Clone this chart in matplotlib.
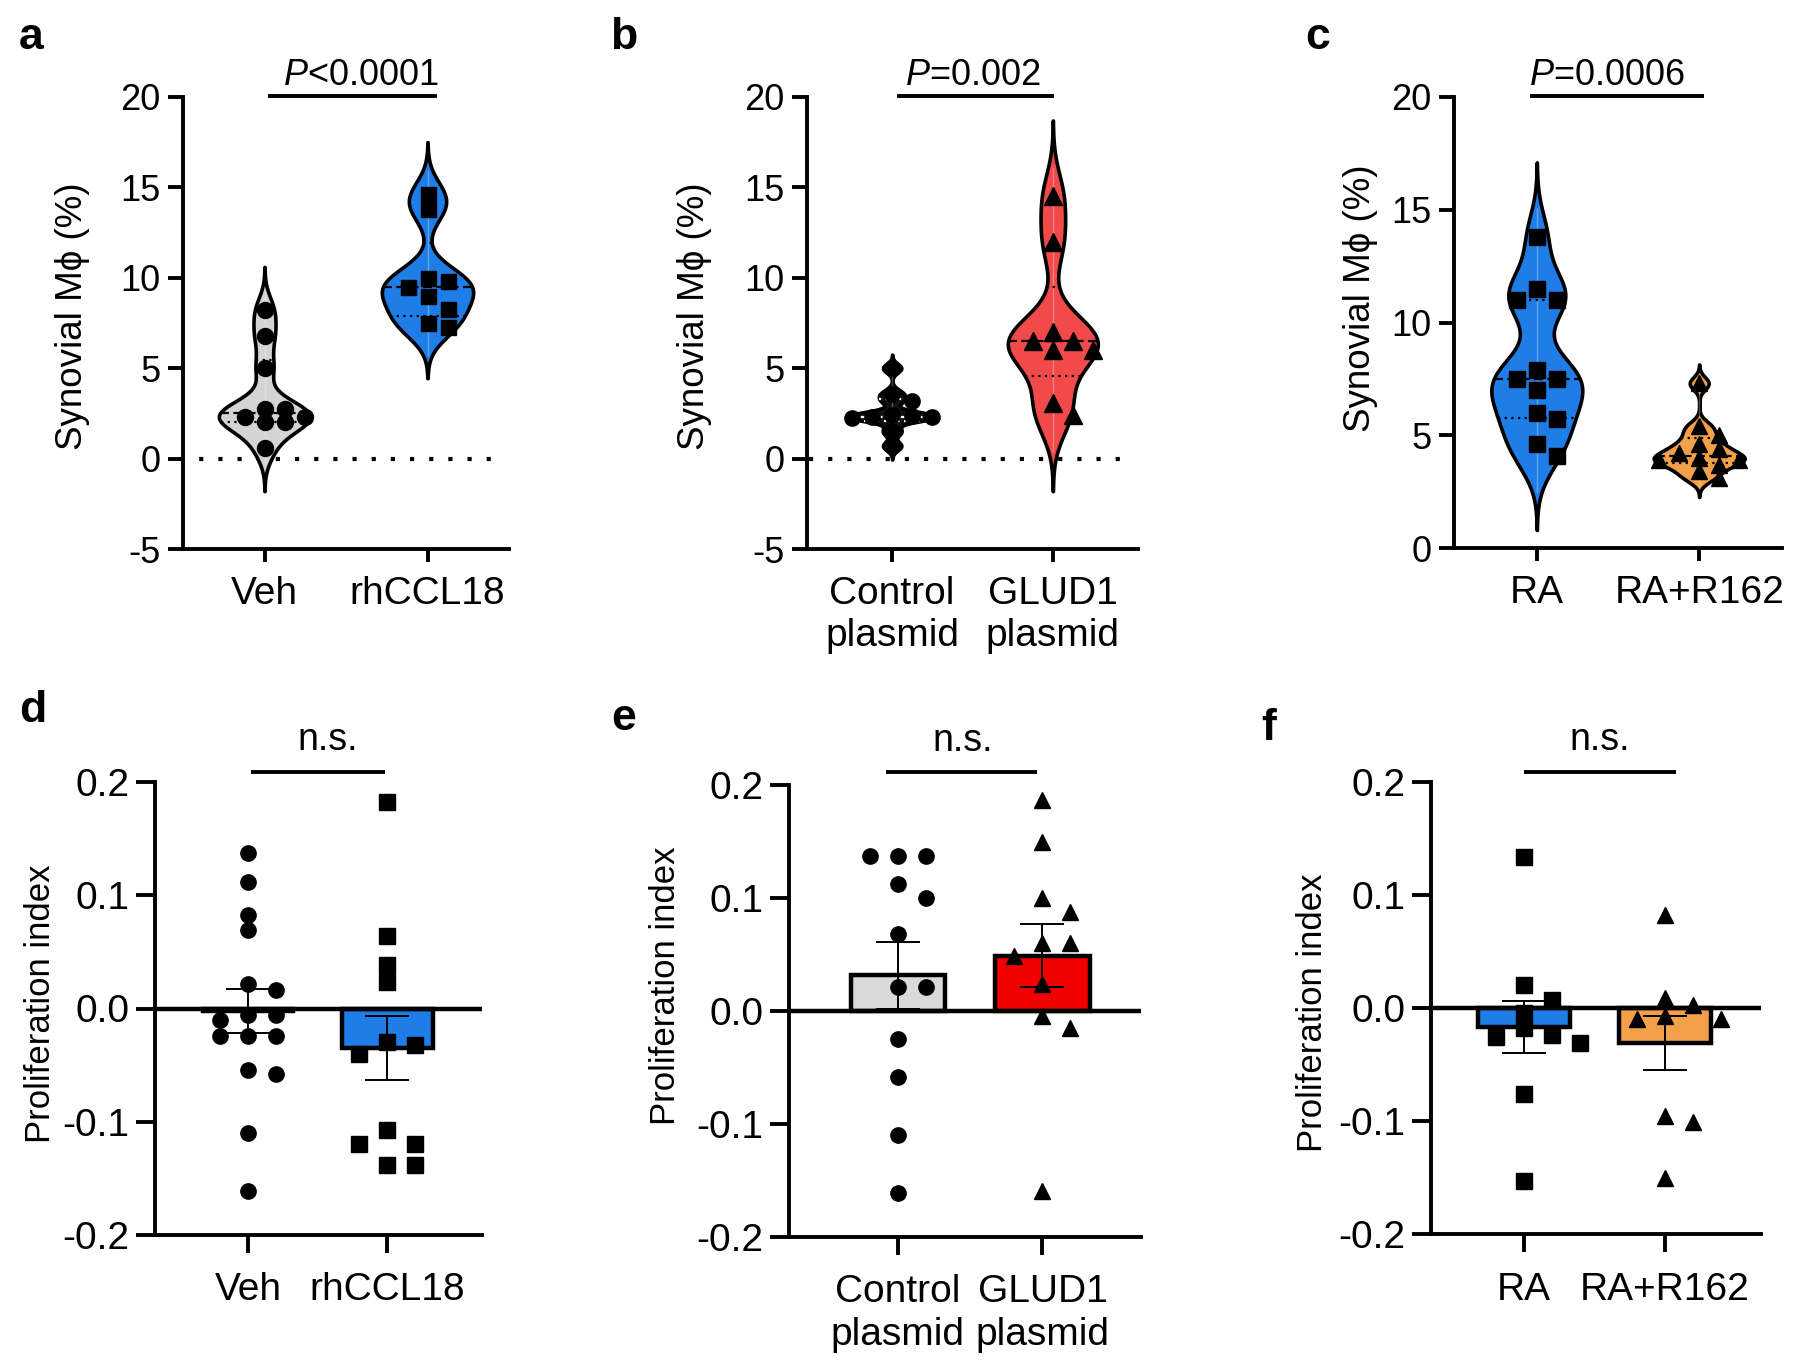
import numpy as np
import matplotlib
matplotlib.use('Agg')
import matplotlib.pyplot as plt

plt.rcParams['font.family'] = ['Liberation Sans', 'DejaVu Sans']
plt.rcParams['axes.unicode_minus'] = False
plt.rcParams['mathtext.fontset'] = 'custom'
plt.rcParams['mathtext.it'] = 'Liberation Sans:italic'
plt.rcParams['mathtext.rm'] = 'Liberation Sans'

# ---------------- data ----------------
a_groups = ['Veh', 'rhCCL18']
a_veh = [8.2, 6.8, 5.0, 2.75, 2.75, 2.3, 2.3, 2.0, 2.0, 0.6]
a_ccl18 = [14.65, 13.8, 10.0, 9.8, 9.5, 9.0, 8.3, 7.5, 7.3]
a_p = r'$\mathit{P}$<0.0001'

b_groups = ['Control\nplasmid', 'GLUD1\nplasmid']
b_ctrl = [5.0, 3.6, 3.2, 2.4, 2.35, 2.3, 2.3, 2.25, 1.5, 0.7]
b_glud1 = [14.5, 12.0, 7.0, 6.5, 6.5, 6.0, 6.0, 3.1, 2.4]
b_p = r'$\mathit{P}$=0.002'

c_groups = ['RA', 'RA+R162']
c_ra = [13.8, 11.5, 11.0, 11.0, 7.9, 7.5, 7.5, 7.0, 6.0, 5.7, 4.6, 4.1]
c_r162 = [7.3, 5.4, 5.0, 4.6, 4.4, 4.2, 4.0, 3.9, 3.9, 3.7, 3.4, 3.1]
c_p = r'$\mathit{P}$=0.0006'

d_groups = ['Veh', 'rhCCL18']
d_veh = [0.137, 0.112, 0.083, 0.069, 0.022, 0.016, -0.006, -0.006, -0.010,
         -0.024, -0.024, -0.024, -0.054, -0.058, -0.110, -0.161]
d_ccl18 = [0.182, 0.064, 0.038, 0.023, -0.030, -0.032, -0.040, -0.107,
           -0.120, -0.120, -0.138, -0.138]

e_groups = ['Control\nplasmid', 'GLUD1\nplasmid']
e_ctrl = [0.137, 0.137, 0.137, 0.112, 0.100, 0.068, 0.021, 0.021, -0.025,
          -0.058, -0.110, -0.161]
e_glud1 = [0.187, 0.150, 0.100, 0.088, 0.060, 0.060, 0.049, 0.024, -0.004,
           -0.015, -0.159]

f_groups = ['RA', 'RA+R162']
f_ra = [0.134, 0.020, 0.007, -0.004, -0.018, -0.024, -0.026, -0.031, -0.076, -0.153]
f_r162 = [0.082, 0.009, 0.003, -0.007, -0.010, -0.010, -0.096, -0.101, -0.150]

ns_text = 'n.s.'
ylab_top = 'Synovial M\u03d5 (%)'
ylab_bot = 'Proliferation index'

# ---------------- style ----------------
BLUE = '#1E7DE6'
GRAY = '#D4D4D4'
VRED = '#F24A4A'
RED = '#F20000'
ORANGE = '#F3A04A'
BGRAY = '#D9D9D9'
W, H = 1800, 1368
SPW = 2.8

fig = plt.figure(figsize=(W / 100, H / 100), dpi=100)


def add_axes(l, r, t, b):
    return fig.add_axes([l / W, 1 - b / H, (r - l) / W, (b - t) / H])


def style(ax, xlim, ylim, yticks, groups, ylabel, lblxy, top=True):
    ax.set_xlim(*xlim)
    ax.set_ylim(*ylim)
    for s in ['top', 'right']:
        ax.spines[s].set_visible(False)
    for s in ['left', 'bottom']:
        ax.spines[s].set_linewidth(SPW)
    ax.set_yticks(yticks)
    if top:
        ax.set_yticklabels([f'{v:g}' for v in yticks])
        ax.tick_params(axis='y', length=11, width=SPW, pad=5, labelsize=26)
        ax.tick_params(axis='x', length=9.5, width=SPW, pad=10, labelsize=28)
        ax.set_ylabel(ylabel, fontsize=26.5, va='center', ha='center')
    else:
        ax.set_yticklabels([f'{v:.1f}' for v in yticks])
        ax.tick_params(axis='y', length=13.5, width=SPW, pad=5, labelsize=28)
        ax.tick_params(axis='x', length=13, width=SPW, pad=14, labelsize=28)
        ax.set_ylabel(ylabel, fontsize=25, va='center', ha='center')
    ax.set_xticks([0, 1])
    ax.set_xticklabels(groups, linespacing=1.22)
    ax.yaxis.set_label_coords(*lblxy)


def swarm(ax, pos, vals, dy_px, dx_px):
    T = ax.transData
    x0 = T.transform((pos, 0))[0]
    pxu = T.transform((pos + 1, 0))[0] - x0
    ys = [T.transform((pos, v))[1] for v in vals]
    order = np.argsort(-np.asarray(vals), kind='stable')
    placed = []
    xs = np.zeros(len(vals))
    step = dx_px / 2.0
    cands = [0.0]
    for k in range(1, 20):
        cands += [k * step, -k * step]
    for i in order:
        y = ys[i]
        for c in cands:
            ok = True
            for (px, py) in placed:
                if abs(y - py) < dy_px and abs(c - px) < dx_px - 1e-6:
                    ok = False
                    break
            if ok:
                break
        placed.append((c, y))
        xs[i] = pos + c / pxu
    return xs


def violin(ax, pos, vals, bw, color, marker, ms, halfw=0.28, line_color='black'):
    v = np.asarray(vals, float)
    lo, hi = v.min() - 3 * bw, v.max() + 3 * bw
    ys = np.linspace(lo, hi, 600)
    dens = np.exp(-0.5 * ((ys[:, None] - v[None, :]) / bw) ** 2).sum(1)
    w = dens / dens.max() * halfw
    ax.fill_betweenx(ys, pos - w, pos + w, facecolor=color, edgecolor='black',
                     linewidth=2.6, zorder=2)
    body = ys[w > 0.03]
    ax.plot([pos, pos], [body.min(), body.max()], color='white', alpha=0.3,
            lw=1.0, zorder=2.2)
    q1, med, q3 = np.percentile(v, [25, 50, 75], method='weibull')
    for q, ls in [(med, (0, (4, 2))), (q1, (0, (1, 2))), (q3, (0, (1, 2)))]:
        wq = np.interp(q, ys, w)
        ax.plot([pos - wq, pos + wq], [q, q], color=line_color, lw=1.6,
                linestyle=ls, zorder=2.5)
    xs = swarm(ax, pos, vals, 13, 20)
    ax.plot(xs, vals, linestyle='none', marker=marker, ms=ms, color='black',
            mec='black', zorder=3)


def sig(ax, x1, x2, y, text, tx, ty, size):
    ax.plot([x1, x2], [y, y], color='black', lw=2.8, clip_on=False,
            solid_capstyle='butt')
    ax.text(tx, ty, text, ha='center', va='baseline', fontsize=size,
            clip_on=False)


def bars(ax, groups_vals, colors, markers, ms):
    for i, (vals, col, mk) in enumerate(zip(groups_vals, colors, markers)):
        v = np.asarray(vals, float)
        m = v.mean()
        sem = v.std(ddof=1) / np.sqrt(len(v))
        ax.bar(i, m, 0.65, color=col, edgecolor='black', linewidth=3.2, zorder=2)
        xs = swarm(ax, i, vals, 15, 28)
        ax.plot(xs, vals, linestyle='none', marker=mk, ms=ms, color='black',
                mec='black', zorder=3)
        ax.errorbar(i, m, yerr=sem, fmt='none', ecolor='black', elinewidth=1.4,
                    capsize=16, capthick=1.4, zorder=4)
    ax.axhline(0, color='black', lw=3.2, zorder=2.6)


# ---------------- panel a ----------------
axa = add_axes(183, 509, 97, 549)
style(axa, (-0.5, 1.5), (-5, 20), [-5, 0, 5, 10, 15, 20], a_groups, ylab_top,
      (-0.34, 0.515))
axa.plot([-0.52, 1.43], [0, 0], color='black', lw=3.0, linestyle=(0, (1, 3.6)),
         zorder=1.5, clip_on=False)
violin(axa, 0, a_veh, 0.8, GRAY, 'o', 11.5)
violin(axa, 1, a_ccl18, 0.95, BLUE, 's', 10.8)
sig(axa, 0.02, 1.06, 20.05, a_p, 0.59, 20.65, 26)

# ---------------- panel b ----------------
axb = add_axes(807, 1138, 97, 549)
style(axb, (-0.53, 1.53), (-5, 20), [-5, 0, 5, 10, 15, 20], b_groups, ylab_top,
      (-0.34, 0.515))
axb.plot([-0.52, 1.47], [0, 0], color='black', lw=3.0, linestyle=(0, (1, 3.6)),
         zorder=1.5, clip_on=False)
violin(axb, 0, b_ctrl, 0.25, '#111111', 'o', 11.0, line_color='white')
violin(axb, 1, b_glud1, 1.4, VRED, '^', 12.5)
sig(axb, 0.03, 1.01, 20.05, b_p, 0.50, 20.65, 26)

# ---------------- panel c ----------------
axc = add_axes(1454, 1782, 97, 548)
style(axc, (-0.51, 1.51), (0, 20), [0, 5, 10, 15, 20], c_groups, ylab_top,
      (-0.285, 0.554))
violin(axc, 0, c_ra, 1.1, BLUE, 's', 11.0)
violin(axc, 1, c_r162, 0.28, ORANGE, '^', 12.0)
sig(axc, -0.04, 1.03, 20.05, c_p, 0.43, 20.53, 26)

# ---------------- panel d ----------------
axd = add_axes(155, 482, 782, 1235)
style(axd, (-0.67, 1.68), (-0.2, 0.2), [-0.2, -0.1, 0.0, 0.1, 0.2], d_groups,
      ylab_bot, (-0.35, 0.51), top=False)
bars(axd, [d_veh, d_ccl18], [BGRAY, BLUE], ['o', 's'], 11.0)
sig(axd, 0.02, 0.98, 0.209, ns_text, 0.57, 0.228, 27)

# ---------------- panel e ----------------
axe = add_axes(789, 1141, 785, 1237)
style(axe, (-0.75, 1.68), (-0.2, 0.2), [-0.2, -0.1, 0.0, 0.1, 0.2], e_groups,
      ylab_bot, (-0.35, 0.555), top=False)
bars(axe, [e_ctrl, e_glud1], [BGRAY, RED], ['o', '^'], 11.0)
sig(axe, -0.08, 0.96, 0.2115, ns_text, 0.45, 0.2305, 27)

# ---------------- panel f ----------------
axf = add_axes(1431, 1761, 782, 1234)
style(axf, (-0.66, 1.68), (-0.2, 0.2), [-0.2, -0.1, 0.0, 0.1, 0.2], f_groups,
      ylab_bot, (-0.36, 0.49), top=False)
bars(axf, [f_ra, f_r162], [BLUE, ORANGE], ['s', '^'], 11.0)
sig(axf, 0.0, 1.08, 0.209, ns_text, 0.54, 0.228, 27)

# ---------------- panel letters ----------------
for lab, x, y in [('a', 19, 49), ('b', 610, 49), ('c', 1305, 49),
                  ('d', 19, 722), ('e', 611, 730), ('f', 1261, 740)]:
    fig.text(x / W, 1 - y / H, lab, fontsize=32, fontweight='bold',
             ha='left', va='baseline')

fig.savefig('out.png', dpi=100)
